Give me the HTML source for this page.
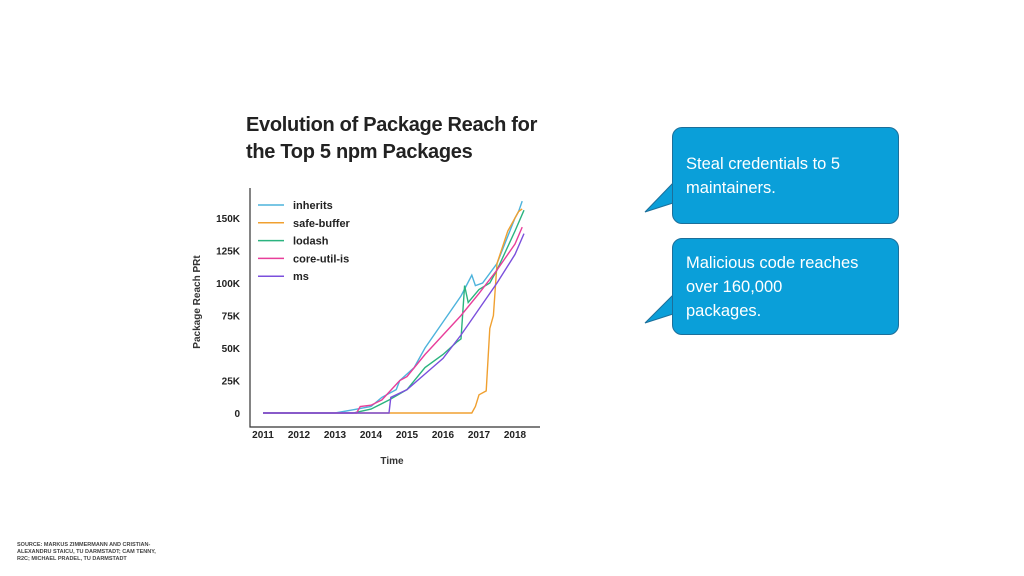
<!DOCTYPE html>
<html><head><meta charset="utf-8"><style>
html,body{margin:0;padding:0;background:#fff;}
body{width:1024px;height:576px;position:relative;overflow:hidden;font-family:"Liberation Sans",sans-serif;}
.title{position:absolute;left:246px;top:112px;font-size:20px;font-weight:bold;color:#222;line-height:27px;letter-spacing:-0.3px;}
.src{position:absolute;left:17px;top:542px;font-size:5.5px;font-weight:bold;color:#444;line-height:7px;width:150px;}
.bubble{position:absolute;left:672px;width:227px;height:97px;background:#0a9fd9;border:1px solid #1c6f9a;border-radius:10px;box-sizing:border-box;color:#fff;font-size:16.5px;line-height:24px;padding:0 30px 0 13px;display:flex;align-items:center;}
</style></head><body>
<div class="title">Evolution of Package Reach for<br>the Top 5 npm Packages</div>
<svg width="1024" height="576" style="position:absolute;left:0;top:0">
<polygon points="673,183 645,212 673,203" fill="#0a9fd9" stroke="#1c6f9a" stroke-width="1"/>
<polygon points="673,295 645,323 673,314" fill="#0a9fd9" stroke="#1c6f9a" stroke-width="1"/>
<g id="plot"></g>
</svg>
<div class="bubble" style="top:127px"><div>Steal credentials to 5 maintainers.</div></div>
<div class="bubble" style="top:238px"><div>Malicious code reaches over 160,000<br>packages.</div></div>
<div class="src">SOURCE: MARKUS ZIMMERMANN AND CRISTIAN-ALEXANDRU STAICU, TU DARMSTADT; CAM TENNY, R2C; MICHAEL PRADEL, TU DARMSTADT</div>
<script>
const yearTicks=[2011,2012,2013,2014,2015,2016,2017,2018];
const yTicks=[0,25,50,75,100,125,150];
const seriesNames=["inherits","safe-buffer","lodash","core-util-is","ms"];
const seriesColors=["#4db3dc","#f0a030","#2bb37f","#e83e9a","#7b4fdc"];
const inheritsT=[2011,2013,2013.5,2014,2014.3,2014.7,2014.8,2015.2,2015.5,2016,2016.5,2016.8,2016.9,2017.1,2017.5,2018,2018.1,2018.2];
const inheritsV=[0,0,2.5,5,12,18,25,35,50,70,90,106,98,100,115,150,155,163];
const safeT=[2011,2016.8,2016.9,2017,2017.2,2017.3,2017.4,2017.5,2017.8,2018,2018.1,2018.2];
const safeV=[0,0,5,14,17,65,75,115,140,150,155,157];
const lodashT=[2011,2013.5,2014,2014.5,2015,2015.5,2016,2016.4,2016.5,2016.6,2016.7,2017,2017.3,2017.5,2018,2018.25];
const lodashV=[0,0,3,10,18,35,45,55,57,98,85,95,100,110,140,156];
const coreT=[2011,2013.6,2013.7,2014,2014.3,2014.8,2015,2015.5,2016,2016.5,2017,2017.5,2018,2018.2];
const coreV=[0,0,5,6,10,25,28,45,60,75,92,110,130,143];
const msT=[2011,2014.5,2014.55,2015,2015.5,2016,2016.5,2017,2017.5,2018,2018.25];
const msV=[0,0,12,18,30,42,60,80,100,122,138];
const allT=[inheritsT,safeT,lodashT,coreT,msT];
const allV=[inheritsV,safeV,lodashV,coreV,msV];

const NS="http://www.w3.org/2000/svg";
const g=document.getElementById('plot');
const X=t=>263+(t-2011)*36;
const Y=v=>413-v*1.3;
function mk(tag,attrs){const e=document.createElementNS(NS,tag);for(const k in attrs)e.setAttribute(k,attrs[k]);g.appendChild(e);return e;}
let ax=mk('path',{d:'M250,188 V427 H540',stroke:'#333','stroke-width':1.2,fill:'none'});


yearTicks.forEach(t=>{
 const e=mk('text',{x:X(t),y:438,'font-size':10,'font-weight':'bold','text-anchor':'middle',fill:'#222'});
 e.textContent=t;
 
 
});
yTicks.forEach(v=>{
 const e=mk('text',{x:240,y:Y(v)+4,'font-size':10,'font-weight':'bold','text-anchor':'end',fill:'#222'});
 e.textContent=v===0?'0':v+'K';
 
 
});
let xt=mk('text',{x:392,y:464,'font-size':10,'font-weight':'bold','text-anchor':'middle',fill:'#333'});
xt.textContent='Time';


let yt=mk('text',{x:0,y:0,'font-size':10,'font-weight':'bold','text-anchor':'middle',fill:'#333',transform:'translate(200,302) rotate(-90)'});
yt.textContent='Package Reach PRt';


allT.forEach((ts,i)=>{
 const d=ts.map((t,j)=>(j?'L':'M')+X(t).toFixed(1)+','+Y(allV[i][j]).toFixed(1)).join(' ');
 const p=mk('path',{d:d,stroke:seriesColors[i],'stroke-width':1.4,fill:'none'});
 
 
 const ly=209+i*17.8;
 const l=mk('line',{x1:258,x2:284,y1:ly-4,y2:ly-4,stroke:seriesColors[i],'stroke-width':1.5});
 
 
 const tx=mk('text',{x:293,y:ly,'font-size':11,'font-weight':'bold',fill:'#222'});
 tx.textContent=seriesNames[i];
 
 
});
</script>
</body></html>
